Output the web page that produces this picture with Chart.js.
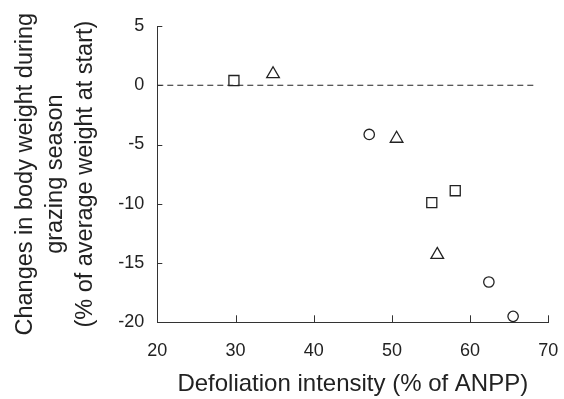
<!DOCTYPE html>
<html><head><meta charset="utf-8">
<script src="https://cdn.jsdelivr.net/npm/chart.js@4"></script>
<style>html,body{margin:0;padding:0;background:#fff;}</style>
</head><body>
<canvas id="c" width="564" height="399"></canvas>
<script>
const squareX = [29.8, 55.1, 58.1];
const squareY = [0.4, -9.9, -8.9];
const triangleX = [34.8, 50.6, 55.8];
const triangleY = [0.95, -4.5, -14.3];
const circleX = [47.1, 62.4, 65.5];
const circleY = [-4.15, -16.6, -19.5];
const zeroLineX = [20, 68.5];
const zeroLineY = [0, 0];
const xTitle = 'Defoliation intensity (% of ANPP)';
const yTitle = ['Changes in body weight during', 'grazing season', '(% of average weight at start)'];

const pts = (xs, ys) => xs.map((x, i) => ({x, y: ys[i]}));
const FONT = "'Liberation Sans', Arial, sans-serif";
const INK = '#222';
const AXIS = '#333';

const innerTicks = {
  id: 'innerTicks',
  afterDraw(chart) {
    const {ctx, scales: {x, y}, chartArea: a} = chart;
    ctx.save();
    ctx.strokeStyle = AXIS;
    ctx.lineWidth = 1;
    ctx.beginPath();
    x.ticks.forEach(t => {
      const px = Math.round(x.getPixelForValue(t.value)) + 0.5;
      ctx.moveTo(px, a.bottom); ctx.lineTo(px, a.bottom - 7);
    });
    y.ticks.forEach(t => {
      const py = Math.round(y.getPixelForValue(t.value)) + 0.5;
      ctx.moveTo(a.left, py); ctx.lineTo(a.left + 5, py);
    });
    ctx.stroke();
    ctx.restore();
  }
};

new Chart(document.getElementById('c'), {
  type: 'scatter',
  data: {
    datasets: [
      {type: 'line', data: pts(zeroLineX, zeroLineY), borderColor: INK, borderWidth: 1, borderDash: [6, 4], pointRadius: 0, fill: false},
      {data: pts(squareX, squareY), pointStyle: 'rect', pointRadius: 7.1, borderColor: INK, backgroundColor: 'rgba(0,0,0,0)', borderWidth: 1.3},
      {data: pts(triangleX, triangleY), pointStyle: 'triangle', pointRadius: 7.3, borderColor: INK, backgroundColor: 'rgba(0,0,0,0)', borderWidth: 1.3},
      {data: pts(circleX, circleY), pointStyle: 'circle', pointRadius: 5.2, borderColor: INK, backgroundColor: 'rgba(0,0,0,0)', borderWidth: 1.3}
    ]
  },
  options: {
    responsive: false,
    devicePixelRatio: 1,
    animation: false,
    clip: false,
    layout: {padding: {top: 26, right: 15.7, left: 0, bottom: 0}},
    plugins: {legend: {display: false}, tooltip: {enabled: false}},
    scales: {
      x: {
        type: 'linear', min: 20, max: 70,
        ticks: {stepSize: 10, color: INK, font: {family: FONT, size: 18}, padding: 18},
        grid: {display: true, drawOnChartArea: false, drawTicks: false},
        border: {display: true, color: AXIS, width: 1},
        title: {display: true, text: xTitle, color: INK, font: {family: FONT, size: 24, lineHeight: 1.2}, padding: {top: 0, bottom: 0}},
        afterFit: s => { s.height = 76.7; s.paddingLeft = 0; s.paddingRight = 0; }
      },
      y: {
        type: 'linear', min: -20, max: 5,
        ticks: {stepSize: 5, color: INK, font: {family: FONT, size: 18}, padding: 13},
        grid: {display: true, drawOnChartArea: false, drawTicks: false},
        border: {display: true, color: AXIS, width: 1},
        title: {display: true, text: yTitle, color: INK, font: {family: FONT, size: 23.5, lineHeight: 1.26}, padding: {top: 11, bottom: 0}},
        afterFit: s => { s.width = 157.3; s.paddingTop = 0; s.paddingBottom = 0; }
      }
    }
  },
  plugins: [innerTicks]
});
</script>
</body></html>
